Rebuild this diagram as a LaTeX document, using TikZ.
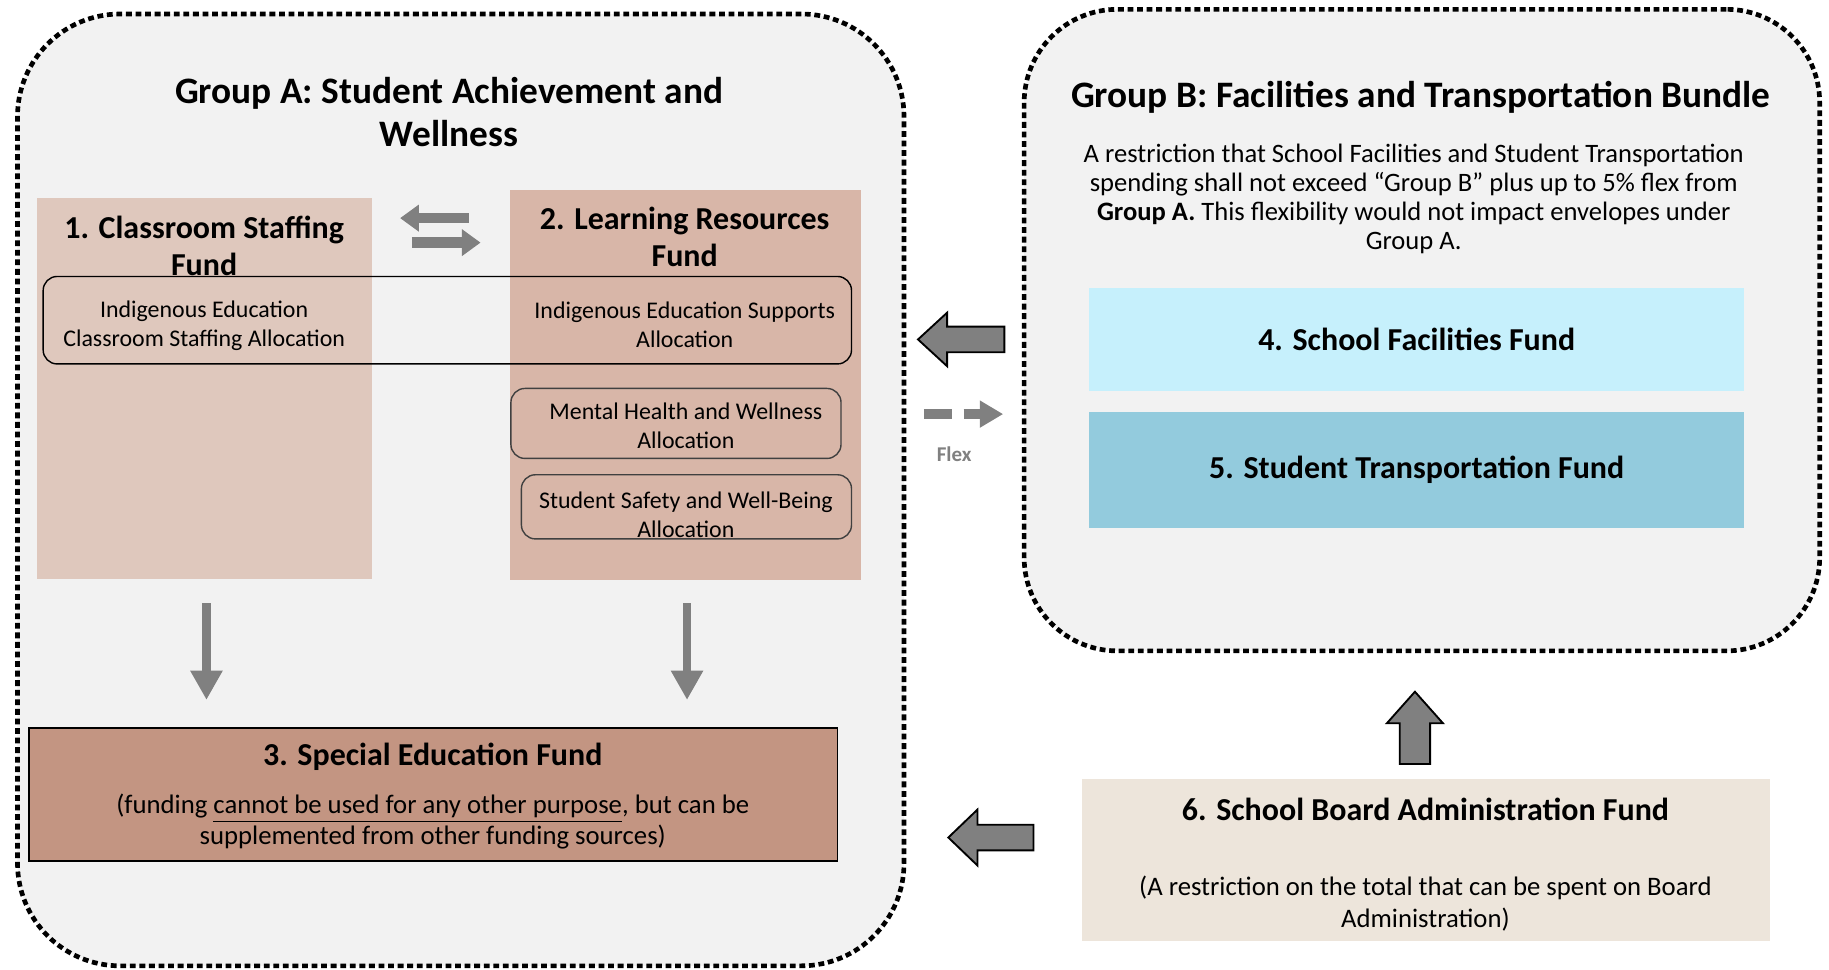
\documentclass[tikz,border=0pt]{standalone}
\usepackage{fontspec}
\setmainfont{Carlito}
\usetikzlibrary{arrows.meta}
\definecolor{groupfill}{HTML}{F2F2F2}
\definecolor{boxone}{HTML}{DFC8BD}
\definecolor{boxtwo}{HTML}{D8B6A8}
\definecolor{boxthree}{HTML}{C39582}
\definecolor{boxfour}{HTML}{C6F0FC}
\definecolor{boxfive}{HTML}{93CBDD}
\definecolor{boxsix}{HTML}{EDE5DB}
\definecolor{arrowgray}{HTML}{808080}
\begin{document}
\begin{tikzpicture}[x=0.5pt,y=-0.5pt,
  group/.style={draw=black, fill=groupfill, line width=2pt, dash pattern=on 2.5pt off 1.6pt, rounded corners=44pt, inner sep=0pt},
  fundbox/.style={inner sep=0pt, draw=none},
  alloc/.style={draw=black, line width=0.6pt, rounded corners=6pt, inner sep=0pt},
  txt/.style={align=center, inner sep=0pt, font=\fontsize{10.25}{12.5}\selectfont},
  desc/.style={align=center, inner sep=0pt, font=\fontsize{11.4}{12.5}\selectfont},
  subtxt/.style={align=center, inner sep=0pt, font=\fontsize{11.45}{13.5}\selectfont},
  ttl/.style={align=center, inner sep=0pt, font=\bfseries\fontsize{13.7}{16}\selectfont},
  gtitle/.style={align=center, inner sep=0pt, font=\bfseries\fontsize{16}{18.5}\selectfont},
  garrow/.style={draw=arrowgray, line width=4.5pt, -{Triangle[width=11pt,length=8pt]}},
  darrow/.style={draw=arrowgray, line width=3.5pt, -{Triangle[width=13pt,length=12.5pt]}},
  block/.style={fill=arrowgray, draw=black, line width=0.8pt, line join=miter}
]
\useasboundingbox (0,0) rectangle (1568,831);
\fill[white] (0,0) rectangle (1568,831);

% group containers
\node[group, minimum width=380pt, minimum height=408pt] (grpA) at (395,420) {};
\node[group, minimum width=341pt, minimum height=275pt, rounded corners=40pt] (grpB) at (1219,283) {};

% Group A
\node[gtitle] (titleA) at (385,96) {Group A: Student Achievement and\\Wellness};
\node[fundbox, fill=boxone, minimum width=143.5pt, minimum height=163pt] (box1) at (175.5,333) {};
\node[fundbox, fill=boxtwo, minimum width=150.5pt, minimum height=167pt] (box2) at (587.5,330) {};
\node[ttl] (t1) at (175,211) {1. Classroom Staffing\\Fund};
\node[ttl] (t2) at (587,203) {2. Learning Resources\\Fund};

\node[alloc, minimum width=346.5pt, minimum height=37.5pt] (indig) at (383.5,274.5) {};
\node[txt] (indA) at (175,279.5) {Indigenous Education\\Classroom Staffing Allocation};
\node[txt] (indB) at (587,278.5) {Indigenous Education Supports\\Allocation};

\node[alloc, draw=black!75, minimum width=141.5pt, minimum height=30pt] (mental) at (579.5,363) {};
\node[txt] (mentalt) at (588,365) {Mental Health and Wellness\\Allocation};
\node[alloc, draw=black!75, minimum width=141.5pt, minimum height=27.5pt] (safety) at (588.5,434.5) {};
\node[txt] (safetyt) at (588,441) {Student Safety and Well-Being\\Allocation};

% two-way arrows between fund 1 and fund 2
\coordinate (lrA) at (402,187);
\coordinate (lrB) at (343,187);
\coordinate (rlA) at (353,208);
\coordinate (rlB) at (412,208);
\draw[garrow] (lrA) -- (lrB);
\draw[garrow] (rlA) -- (rlB);

% Special education
\node[fundbox, draw=black, line width=0.6pt, fill=boxthree, minimum width=346.5pt, minimum height=57pt] (box3) at (371.5,681) {};
\node[ttl] (t3) at (371,649) {3. Special Education Fund};
\node[subtxt] (s3) at (371,704.5) {(funding \underline{cannot be used for any other purpose}, but can be\\supplemented from other funding sources)};

% down arrows
\coordinate (d1a) at (177,517);
\coordinate (d1b) at (177,600);
\coordinate (d2a) at (589,517);
\coordinate (d2b) at (589,600);
\draw[darrow] (d1a) -- (d1b);
\draw[darrow] (d2a) -- (d2b);

% Group B
\node[gtitle] (titleB) at (1218,83) {Group B: Facilities and Transportation Bundle};
\node[desc] (descB) at (1212,170.5) {A restriction that School Facilities and Student Transportation\\spending shall not exceed “Group B” plus up to 5\% flex from\\\textbf{Group A.} This flexibility would not impact envelopes under\\Group A.};
\node[fundbox, fill=boxfour, minimum width=280.5pt, minimum height=44pt] (box4) at (1214.5,291) {};
\node[ttl] at (box4.center) {4. School Facilities Fund};
\node[fundbox, fill=boxfive, minimum width=280.5pt, minimum height=50pt] (box5) at (1214.5,403) {};
\node[ttl] at (box5.center) {5. Student Transportation Fund};

% School board administration
\node[fundbox, fill=boxsix, minimum width=294.5pt, minimum height=69.5pt] (box6) at (1222.5,737.5) {};
\node[ttl] (t6) at (1222,694) {6. School Board Administration Fund};
\node[subtxt] (s6) at (1222,774.5) {(A restriction on the total that can be spent on Board\\Administration)};

% block arrows
\draw[block] (787,291) -- (812,268) -- (812,280) -- (861,280) -- (861,302) -- (812,302) -- (812,314) -- cycle;
\draw[block] (1213,593) -- (1237,620) -- (1226,620) -- (1226,655) -- (1200,655) -- (1200,620) -- (1189,620) -- cycle;
\draw[block] (813,718) -- (838,694) -- (838,707) -- (886,707) -- (886,729) -- (838,729) -- (838,742) -- cycle;

% flex arrow
\coordinate (fxa) at (792,355);
\coordinate (fxb) at (860,355);
\draw[draw=arrowgray, line width=4pt, dash pattern=on 12pt off 5pt, -{Triangle[width=11pt,length=10pt]}] (fxa) -- (fxb);
\node[inner sep=0pt, text=arrowgray, font=\bfseries\fontsize{9}{11}\selectfont] (flex) at (818,389) {Flex};
\end{tikzpicture}
\end{document}
